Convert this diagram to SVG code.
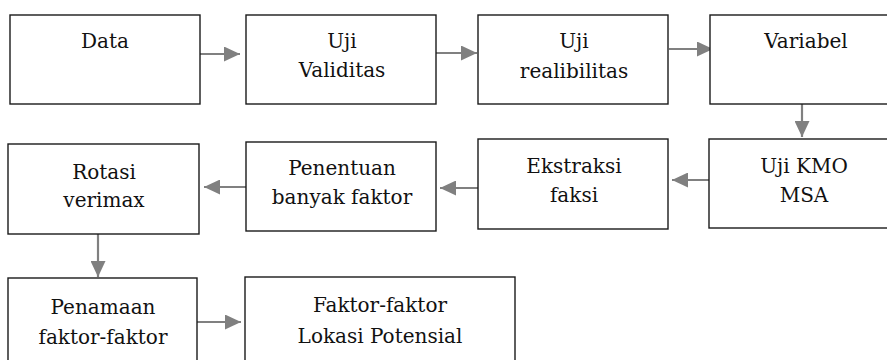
<svg xmlns="http://www.w3.org/2000/svg" width="887" height="360" viewBox="0 0 887 360">
<style>
.box{fill:#fff;stroke:#1a1a1a;stroke-width:1.4}
.t{font-family:"DejaVu Serif","Liberation Serif",serif;font-size:20px;fill:#111;text-anchor:middle}
.c{stroke:#808080;stroke-width:2.2;fill:none;marker-end:url(#ah)}
</style>
<defs>
<marker id="ah" markerUnits="userSpaceOnUse" markerWidth="16" markerHeight="15" refX="16" refY="7.5" orient="auto">
<path d="M0,0 L16,7.5 L0,15 z" fill="#808080"/>
</marker>
</defs>
<rect width="887" height="360" fill="#fff"/>
<g id="connectors">
<line class="c" x1="200" y1="54" x2="240" y2="54"/>
<line class="c" x1="436" y1="53" x2="477" y2="53"/>
<line class="c" x1="669" y1="49" x2="713" y2="49"/>
<line class="c" x1="802" y1="104" x2="802" y2="137"/>
<line class="c" x1="709" y1="180" x2="672" y2="180"/>
<line class="c" x1="478" y1="188" x2="440" y2="188"/>
<line class="c" x1="246" y1="187" x2="204" y2="187"/>
<line class="c" x1="98" y1="234" x2="98" y2="277"/>
<line class="c" x1="197" y1="322" x2="241" y2="322"/>
</g>
<g id="data"><rect class="box" x="10" y="15" width="190" height="89"/><text class="t" x="105" y="48">Data</text></g>
<g id="uji-validitas"><rect class="box" x="246" y="15" width="190" height="89"/><text class="t" x="342" y="48">Uji</text><text class="t" x="342" y="77">Validitas</text></g>
<g id="uji-realibilitas"><rect class="box" x="478" y="15" width="190" height="89"/><text class="t" x="574" y="48">Uji</text><text class="t" x="574" y="78">realibilitas</text></g>
<g id="variabel"><rect class="box" x="710" y="15" width="190" height="89"/><text class="t" x="806" y="48">Variabel</text></g>
<g id="uji-kmo"><rect class="box" x="709" y="139" width="190" height="89"/><text class="t" x="804" y="173">Uji KMO</text><text class="t" x="804" y="202">MSA</text></g>
<g id="ekstraksi"><rect class="box" x="478" y="139" width="190" height="90"/><text class="t" x="574" y="173">Ekstraksi</text><text class="t" x="574" y="202">faksi</text></g>
<g id="penentuan"><rect class="box" x="246" y="142" width="190" height="89"/><text class="t" x="342" y="175">Penentuan</text><text class="t" x="342" y="204">banyak faktor</text></g>
<g id="rotasi"><rect class="box" x="8" y="144" width="191" height="90"/><text class="t" x="104" y="179">Rotasi</text><text class="t" x="104" y="207">verimax</text></g>
<g id="penamaan"><rect class="box" x="8" y="278" width="189" height="90"/><text class="t" x="103" y="314">Penamaan</text><text class="t" x="103" y="344">faktor-faktor</text></g>
<g id="faktor-lokasi"><rect class="box" x="245" y="277" width="270" height="90"/><text class="t" x="380" y="312">Faktor-faktor</text><text class="t" x="380" y="343">Lokasi Potensial</text></g>
</svg>
